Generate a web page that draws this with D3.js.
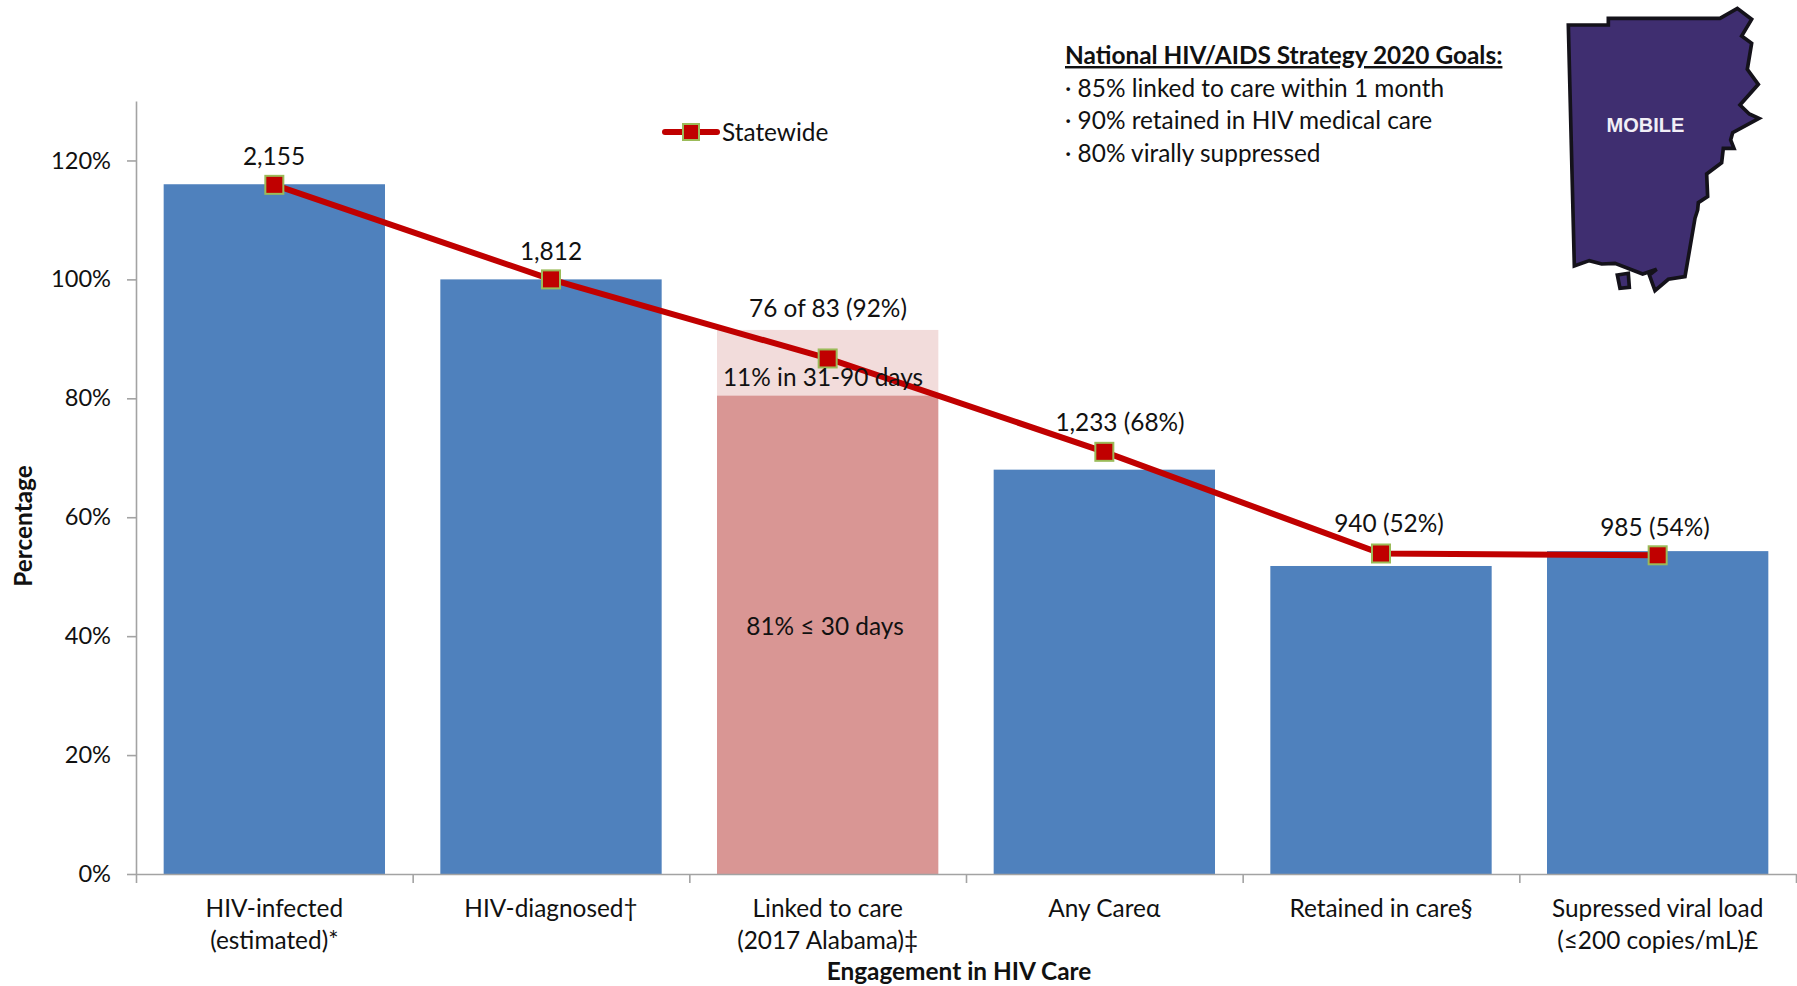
<!DOCTYPE html>
<html>
<head>
<meta charset="utf-8">
<script src="https://cdn.jsdelivr.net/npm/d3@7"></script>
<style>
  html, body { margin: 0; padding: 0; background: #fff; }
  svg { display: block; }
  text { font-family: Lato, "Open Sans", sans-serif; font-size: 24.4px; fill: #111; }
  .axis path, .axis line { stroke: #a3a3a3; stroke-width: 1.6px; }
  .axis text { font-family: Lato, "Open Sans", sans-serif; font-size: 23.6px; fill: #111; }
</style>
</head>
<body>
<div id="viz"></div>
<script>
var width = 1797, height = 986;
var margin = {top: 101, right: 1, bottom: 112, left: 136};

var categories = ['HIV-infected', 'HIV-diagnosed†', 'Linked to care', 'Any Careα', 'Retained in care§', 'Supressed viral load'];
var categories2 = ['(estimated)*', '', '(2017 Alabama)‡', '', '', '(≤200 copies/mL)£'];
var barValues = [116, 100, 0, 68, 51.8, 54.3];
var linkedSoon = 80.5;
var linkedLater = 11;
var statewide = [115.9, 100, 86.7, 71, 53.9, 53.6];
var barLabels = ['2,155', '1,812', '76 of 83 (92%)', '1,233 (68%)', '940 (52%)', '985 (54%)'];
var yTicks = [0, 20, 40, 60, 80, 100, 120];
var goals = ['85% linked to care within 1 month', '90% retained in HIV medical care', '80% virally suppressed'];

// county outline (map is decoration, not data)
var countyOutline = [[85,75],[205,75],[205,55],[540,55],[592,25],[635,58],[605,108],[635,130],[622,208],[655,253],[600,315],[628,342],[657,355],[578,398],[572,420],[582,445],[550,445],[545,488],[500,522],[503,590],[475,608],[473,630],[465,655],[435,830],[385,838],[345,872],[328,825],[350,808],[308,822],[225,790],[185,792],[148,782],[103,798]];
var countyIsland = [[232,825],[265,820],[268,862],[240,865]];

var svg = d3.select('#viz').append('svg')
  .attr('width', width)
  .attr('height', height);

// x scale
var x = d3.scaleBand()
  .domain(categories)
  .range([margin.left, width - margin.right])
  .paddingInner(0.2)
  .paddingOuter(0.1);

// only for the tick marks between the categories
var xEdges = d3.scaleLinear()
  .domain([0, categories.length])
  .range([margin.left, width - margin.right]);

// y scale
var y = d3.scaleLinear()
  .domain([0, 130])
  .range([height - margin.bottom, margin.top]);

var centre = function(i) { return x(categories[i]) + x.bandwidth() / 2; };

// bars
svg.append('g').selectAll('rect')
  .data(barValues)
  .join('rect')
  .attr('x', function(d, i) { return x(categories[i]); })
  .attr('y', function(d) { return y(d); })
  .attr('width', x.bandwidth())
  .attr('height', function(d) { return y(0) - y(d); })
  .attr('fill', '#4f81bd');

// the linked to care bar is stacked
svg.append('rect')
  .attr('x', x(categories[2]))
  .attr('y', y(linkedSoon))
  .attr('width', x.bandwidth())
  .attr('height', y(0) - y(linkedSoon))
  .attr('fill', '#d99694');

svg.append('rect')
  .attr('x', x(categories[2]))
  .attr('y', y(linkedSoon + linkedLater))
  .attr('width', x.bandwidth())
  .attr('height', y(linkedSoon) - y(linkedSoon + linkedLater))
  .attr('fill', '#f2dcdb');

// y axis
svg.append('g')
  .attr('class', 'axis')
  .attr('transform', 'translate(' + margin.left + ',0)')
  .call(d3.axisLeft(y).tickValues(yTicks).tickFormat(function(d) { return d + '%'; }).tickSize(9).tickSizeOuter(0).tickPadding(16));

// x axis
svg.append('g')
  .attr('class', 'axis')
  .attr('transform', 'translate(0,' + y(0) + ')')
  .call(d3.axisBottom(xEdges).ticks(categories.length).tickFormat('').tickSize(9).tickSizeOuter(0));

var xLabels = svg.append('g').attr('text-anchor', 'middle');

xLabels.selectAll('text.first')
  .data(categories)
  .join('text')
  .attr('class', 'first')
  .attr('x', function(d, i) { return centre(i); })
  .attr('y', 917)
  .text(function(d) { return d; });

xLabels.selectAll('text.second')
  .data(categories2)
  .join('text')
  .attr('class', 'second')
  .attr('x', function(d, i) { return centre(i); })
  .attr('y', 949)
  .text(function(d) { return d; });

svg.append('text')
  .attr('x', 959)
  .attr('y', 980)
  .attr('text-anchor', 'middle')
  .style('font-weight', 'bold')
  .text('Engagement in HIV Care');

svg.append('text')
  .attr('transform', 'translate(32,526) rotate(-90)')
  .attr('text-anchor', 'middle')
  .style('font-weight', 'bold')
  .text('Percentage');

// statewide line
var line = d3.line()
  .x(function(d, i) { return centre(i); })
  .y(function(d) { return y(d); });

svg.append('path')
  .datum(statewide)
  .attr('d', line)
  .attr('fill', 'none')
  .attr('stroke', '#c00000')
  .attr('stroke-width', 6);

var markerSize = 18;
svg.append('g').selectAll('rect')
  .data(statewide)
  .join('rect')
  .attr('x', function(d, i) { return centre(i) - markerSize / 2; })
  .attr('y', function(d) { return y(d) - markerSize / 2; })
  .attr('width', markerSize)
  .attr('height', markerSize)
  .attr('fill', '#c00000')
  .attr('stroke', '#9bbb59')
  .attr('stroke-width', 2);

// data labels
var labelX = [274, 551, 828, 1120, 1389, 1655];
var labelY = [165, 260, 317, 431, 532, 536];
svg.append('g').selectAll('text')
  .data(barLabels)
  .join('text')
  .attr('x', function(d, i) { return labelX[i]; })
  .attr('y', function(d, i) { return labelY[i]; })
  .attr('text-anchor', 'middle')
  .text(function(d) { return d; });

svg.append('text').attr('x', 823).attr('y', 386).attr('text-anchor', 'middle').text('11% in 31-90 days');
svg.append('text').attr('x', 825).attr('y', 635).attr('text-anchor', 'middle').text('81% ≤ 30 days');

// legend
var legend = svg.append('g').attr('class', 'legend');
legend.append('line')
  .attr('x1', 665).attr('x2', 717)
  .attr('y1', 132).attr('y2', 132)
  .attr('stroke', '#c00000')
  .attr('stroke-width', 6)
  .attr('stroke-linecap', 'round');
legend.append('rect')
  .attr('x', 683).attr('y', 124)
  .attr('width', 16).attr('height', 16)
  .attr('fill', '#c00000')
  .attr('stroke', '#9bbb59')
  .attr('stroke-width', 2);
legend.append('text').attr('x', 722).attr('y', 141).text('Statewide');

// goals box
var goalBox = svg.append('g');
goalBox.append('text')
  .attr('x', 1065).attr('y', 64)
  .style('font-weight', 'bold')
  .style('text-decoration', 'underline')
  .text('National HIV/AIDS Strategy 2020 Goals:');
goalBox.selectAll('text.goal')
  .data(goals)
  .join('text')
  .attr('class', 'goal')
  .attr('x', 1065)
  .attr('y', function(d, i) { return 96.5 + i * 32.5; })
  .text(function(d) { return '· ' + d; });

// county map
var map = svg.append('g').attr('transform', 'translate(1540,0) scale(0.3333)');
var outline = d3.line().curve(d3.curveLinearClosed);
map.append('path')
  .attr('d', outline(countyOutline))
  .attr('fill', '#3f2e70')
  .attr('stroke', '#14121a')
  .attr('stroke-width', 11)
  .attr('stroke-linejoin', 'miter');
map.append('path')
  .attr('d', outline(countyIsland))
  .attr('fill', '#3f2e70')
  .attr('stroke', '#14121a')
  .attr('stroke-width', 11);
svg.append('text')
  .attr('x', 1645.5)
  .attr('y', 132)
  .attr('text-anchor', 'middle')
  .style('font-family', '"Liberation Sans", sans-serif')
  .style('font-size', '20px')
  .style('font-weight', 'bold')
  .style('fill', '#f1eef6')
  .text('MOBILE');
</script>
</body>
</html>
